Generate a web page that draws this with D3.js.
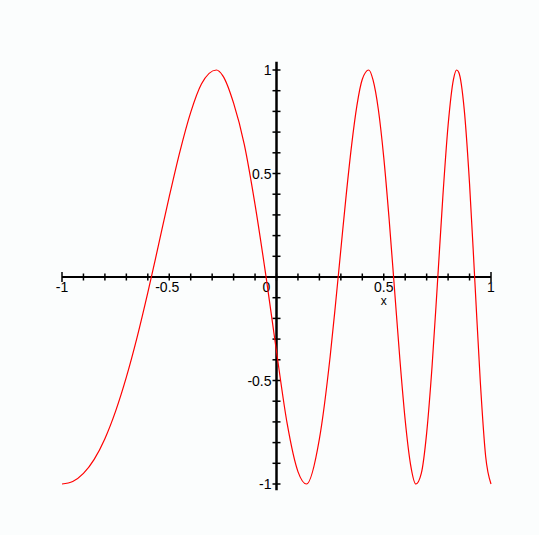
<!DOCTYPE html>
<html>
<head>
<meta charset="utf-8">
<script src="https://cdn.jsdelivr.net/npm/d3@7"></script>
<style>
  html, body { margin: 0; padding: 0; background: #fbfdfd; }
  svg { display: block; }
  text { font-family: "Liberation Sans", Arial, sans-serif; fill: #000; }
</style>
</head>
<body>
<svg id="chart" width="539" height="535"></svg>
<script>
// Sampled curve: x positions and matching y values
const xs = [-1, -0.95, -0.9, -0.85, -0.8, -0.75, -0.7, -0.65, -0.6, -0.55,
            -0.5, -0.45, -0.4, -0.35, -0.28, -0.25, -0.2, -0.15, -0.1, -0.05,
            0, 0.05, 0.1, 0.14, 0.2, 0.25, 0.275, 0.3, 0.325, 0.35,
            0.375, 0.4, 0.43, 0.45, 0.475, 0.5, 0.525, 0.55, 0.575, 0.6,
            0.625, 0.65, 0.675, 0.7, 0.725, 0.75, 0.775, 0.8, 0.825, 0.84,
            0.85, 0.875, 0.9, 0.925, 0.95, 0.975, 1];
const ys = [-1, -0.988, -0.949, -0.881, -0.781, -0.648, -0.484, -0.292, -0.076, 0.155,
            0.388, 0.607, 0.795, 0.932, 1, 0.972, 0.84, 0.64, 0.35, 0.01,
            -0.36, -0.71, -0.94, -1, -0.782, -0.385, -0.133, 0.133, 0.397, 0.635,
            0.829, 0.955, 1, 0.952, 0.808, 0.578, 0.28, -0.057, -0.395, -0.692,
            -0.906, -1, -0.949, -0.754, -0.435, -0.035, 0.38, 0.733, 0.955, 1,
            0.988, 0.811, 0.45, -0.025, -0.504, -0.866, -1];

// Axis ticks and labels
const xTicks = d3.range(-10, 11).map(d => d / 10);
const yTicks = d3.range(-10, 11).map(d => d / 10).filter(d => d !== 0);
const xLabels = [-1, -0.5, 0, 0.5, 1];
const yLabels = [1, 0.5, -0.5, -1];
const axisName = "x";

const svg = d3.select("#chart");
const x = d3.scaleLinear().domain([-1, 1]).range([62, 491]);
const y = d3.scaleLinear().domain([-1, 1]).range([484, 70]);

const fmt = v => (v === 0 ? "0" : String(v));

// Horizontal axis
const gx = svg.append("g").attr("transform", `translate(0,${y(0)})`);
gx.append("line")
  .attr("x1", x(-1)).attr("x2", x(1))
  .attr("stroke", "#000").attr("stroke-width", 2);
gx.selectAll("line.tick").data(xTicks).join("line")
  .attr("class", "tick")
  .attr("x1", d => x(d)).attr("x2", d => x(d))
  .attr("y1", d => (Math.abs(d) === 1 ? -5 : -3.5))
  .attr("y2", d => (Math.abs(d) === 1 ? 5 : 3.5))
  .attr("stroke", "#000").attr("stroke-width", 1.5);
gx.selectAll("text.lab").data(xLabels).join("text")
  .attr("class", "lab")
  .attr("x", d => x(d) + (d === 0 ? -10 : d === -0.5 ? -2 : 0))
  .attr("y", 15)
  .attr("text-anchor", "middle")
  .attr("font-size", 14)
  .text(fmt);
gx.append("text")
  .attr("x", x(0.5)).attr("y", 28)
  .attr("text-anchor", "middle")
  .attr("font-size", 12)
  .text(axisName);

// Vertical axis
const gy = svg.append("g").attr("transform", `translate(${x(0)},0)`);
gy.append("line")
  .attr("y1", y(1.04)).attr("y2", y(-1.03))
  .attr("stroke", "#000").attr("stroke-width", 2.5);
gy.selectAll("line.tick").data(yTicks).join("line")
  .attr("class", "tick")
  .attr("y1", d => y(d)).attr("y2", d => y(d))
  .attr("x1", -4).attr("x2", 4)
  .attr("stroke", "#000").attr("stroke-width", 1.5);
gy.selectAll("text.lab").data(yLabels).join("text")
  .attr("class", "lab")
  .attr("x", -5)
  .attr("y", d => y(d))
  .attr("dy", "0.36em")
  .attr("text-anchor", "end")
  .attr("font-size", 14)
  .text(fmt);

// Curve
const pts = xs.map((v, i) => [v, ys[i]]);
const line = d3.line()
  .x(d => x(d[0]))
  .y(d => y(d[1]))
  .curve(d3.curveMonotoneX);
svg.append("path")
  .datum(pts)
  .attr("d", line)
  .attr("fill", "none")
  .attr("stroke", "#ff0000")
  .attr("stroke-width", 1.2);
</script>
</body>
</html>
